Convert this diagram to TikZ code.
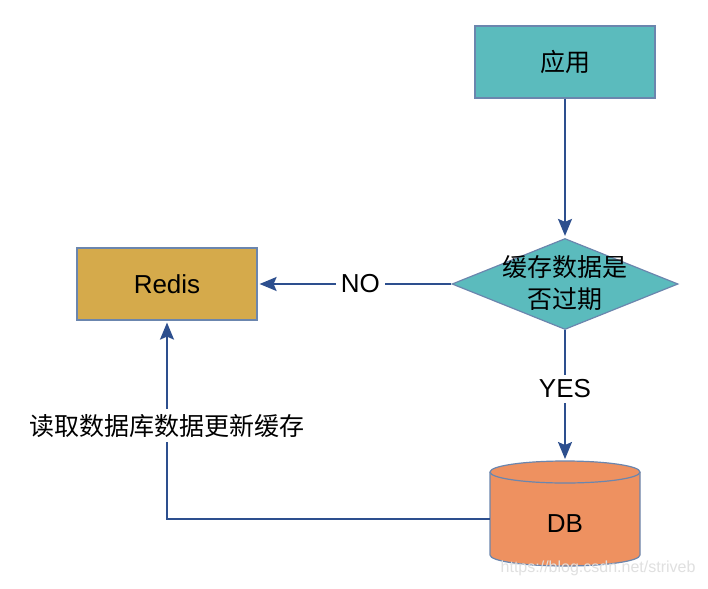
\documentclass[tikz,border=0pt]{standalone}
\usepackage{fontspec}
\setmainfont{Liberation Sans}
\newfontfamily\cjk{Noto Sans CJK SC}
\usetikzlibrary{shapes.geometric,arrows.meta}
\definecolor{tealf}{HTML}{5BBBBD}
\definecolor{redisf}{HTML}{D5AA4B}
\definecolor{dbf}{HTML}{EE9160}
\definecolor{bord}{HTML}{6B86AE}
\definecolor{conn}{HTML}{2D4F8E}
\tikzset{
  boxnode/.style={draw=bord, line width=1.2pt, minimum width=180pt, minimum height=72pt, inner sep=0pt, font=\fontsize{26}{30}\selectfont},
  conline/.style={draw=conn, line width=1.8pt},
  arr/.style={conline, -{Stealth[width=14pt,length=17pt,inset=3pt]}, shorten >=2pt},
  lab/.style={fill=white, inner sep=5pt, font=\fontsize{26}{30}\selectfont}
}
\begin{document}
\begin{tikzpicture}[x=1pt,y=-1pt]
\useasboundingbox (0,0) rectangle (708,588);
\fill[white] (0,0) rectangle (708,588);
% nodes
\node[boxnode, fill=tealf] (app) at (565,62) {\cjk\fontsize{25}{30}\selectfont 应用};
\node[diamond, draw=bord, line width=1.2pt, fill=tealf, minimum width=226pt, minimum height=91pt, inner sep=0pt, aspect=2.48] (dec) at (565,284) {};
\node[font=\cjk\fontsize{25}{32}\selectfont, align=center] at (565,283) {缓存数据是\\否过期};
\node[boxnode, fill=redisf] (redis) at (167,284) {Redis};
% cylinder
\draw[bord, line width=1.2pt, fill=dbf] (490,472) -- (490,555) arc[start angle=180, end angle=0, x radius=75, y radius=11] -- (640,472);
\draw[bord, line width=1.2pt, fill=dbf] (565,472) ellipse [x radius=75, y radius=11];
\node[inner sep=0pt, minimum width=150pt, minimum height=94pt] (db) at (565,519) {};
\node[font=\fontsize{26}{30}\selectfont] at (565,524) {DB};
% connectors
\draw[arr] (app.south) -- (dec.north);
\draw[arr] (dec.west) -- node[lab, pos=0.47] {NO} (redis.east);
\coordinate (dbtop) at (565,461);
\draw[arr] (dec.south) -- node[lab, pos=0.45] {YES} (dbtop);
\coordinate (corner) at (redis.south |- db.west);
\draw[arr] (db.west) -- (corner) -- node[lab, pos=0.47] {\cjk\fontsize{25}{30}\selectfont 读取数据库数据更新缓存} (redis.south);
% watermark
\node[text=black!12, font=\fontsize{16}{18}\selectfont, anchor=east] at (699,568) {https://blog.csdn.net/striveb};
\end{tikzpicture}
\end{document}
